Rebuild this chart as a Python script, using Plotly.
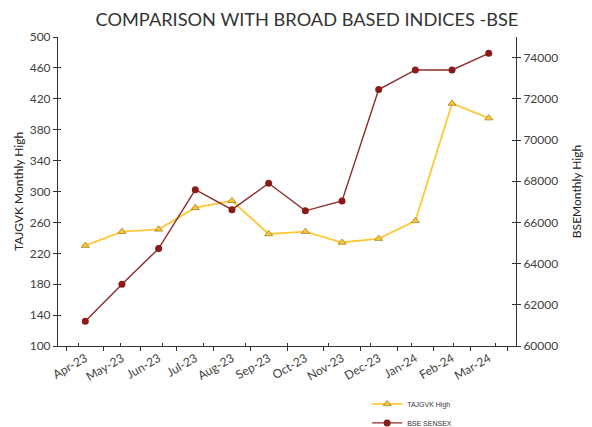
import plotly.graph_objects as go

months = ["Apr-23", "May-23", "Jun-23", "Jul-23", "Aug-23", "Sep-23",
          "Oct-23", "Nov-23", "Dec-23", "Jan-24", "Feb-24", "Mar-24"]
tajgvk_high = [230, 248, 251, 279, 288, 245, 248, 234, 239, 262, 414, 395]
bse_sensex = [61200, 63000, 64730, 67590, 66620, 67900, 66560, 67040, 72450, 73400, 73400, 74210]
left_ticks = [100, 140, 180, 220, 260, 300, 340, 380, 420, 460, 500]
right_ticks = [60000, 62000, 64000, 66000, 68000, 70000, 72000, 74000]

FONT = "Lato"
AXC = "#333333"
TXT = "#404040"

fig = go.Figure()
# invisible helper traces so the inside-tick overlay axes render (cross ticks)
fig.add_trace(go.Scatter(x=months, y=tajgvk_high, xaxis="x2", yaxis="y3", mode="lines",
                         line=dict(width=0), opacity=0, showlegend=False, hoverinfo="skip"))
fig.add_trace(go.Scatter(x=months, y=bse_sensex, xaxis="x2", yaxis="y4", mode="lines",
                         line=dict(width=0), opacity=0, showlegend=False, hoverinfo="skip"))

fig.add_trace(go.Scatter(
    x=months, y=tajgvk_high, name="TAJGVK High", mode="lines+markers",
    line=dict(color="#FFC838", width=1.8),
    marker=dict(symbol="triangle-up", size=7, color="#FFC838",
                line=dict(color="#A08020", width=0.8)),
    yaxis="y"))
fig.add_trace(go.Scatter(
    x=months, y=bse_sensex, name="BSE SENSEX", mode="lines+markers",
    line=dict(color="#8E2A2A", width=1.4),
    marker=dict(symbol="circle", size=7, color="#8B1A1A"),
    yaxis="y2"))

fig.update_layout(
    width=592, height=427,
    margin=dict(l=50, r=84, t=29, b=89, autoexpand=False),
    paper_bgcolor="white", plot_bgcolor="white",
    title=dict(text="COMPARISON WITH BROAD BASED INDICES -BSE",
               x=0.505, xanchor="center", y=0.972, yanchor="middle",
               font=dict(family=FONT, size=18.2, color="#333333")),
    xaxis=dict(type="category", showline=True, linecolor=AXC, linewidth=1,
               ticks="outside", ticklen=4, tickcolor=AXC, tickson="boundaries",
               tickangle=-30, showgrid=False, zeroline=False, automargin=False,
               tickfont=dict(family=FONT, size=12, color=TXT)),
    xaxis2=dict(type="category", overlaying="x", side="bottom", anchor="y", showline=False,
                categoryorder="array", categoryarray=months,
                ticks="inside", ticklen=3, tickcolor=AXC, tickson="boundaries",
                showticklabels=False, showgrid=False, zeroline=False, automargin=False),
    yaxis=dict(range=[100, 500], tickvals=left_ticks, showline=True, linecolor=AXC, linewidth=1,
               ticks="outside", ticklen=4, tickcolor=AXC, showgrid=False, zeroline=False,
               automargin=False,
               tickfont=dict(family=FONT, size=12, color=TXT),
               title=dict(text="TAJGVK Monthly High", standoff=3,
                          font=dict(family=FONT, size=12, color="#222222"))),
    yaxis3=dict(range=[100, 500], tickvals=left_ticks, overlaying="y", side="left", anchor="x",
                showline=False, ticks="inside", ticklen=3, tickcolor=AXC,
                showticklabels=False, showgrid=False, zeroline=False, automargin=False),
    yaxis2=dict(range=[60000, 75000], tickvals=right_ticks, tickformat="d",
                overlaying="y", side="right", anchor="x", showline=True, linecolor=AXC, linewidth=1,
                ticks="outside", ticklen=4, tickcolor=AXC, showgrid=False, zeroline=False,
                automargin=False,
                tickfont=dict(family=FONT, size=12, color=TXT),
                title=dict(text="BSEMonthly High", standoff=15,
                           font=dict(family=FONT, size=12, color="#222222"))),
    yaxis4=dict(range=[60000, 75000], tickvals=right_ticks, overlaying="y", side="right", anchor="x",
                showline=False, ticks="inside", ticklen=4, tickcolor=AXC,
                showticklabels=False, showgrid=False, zeroline=False, automargin=False),
    legend=dict(x=0.675, y=-0.1405, xanchor="left", yanchor="top",
                font=dict(family="Liberation Sans", size=7, color="#333333"),
                bgcolor="rgba(0,0,0,0)", itemwidth=30),
    showlegend=True,
)

fig.write_html("out.html")
